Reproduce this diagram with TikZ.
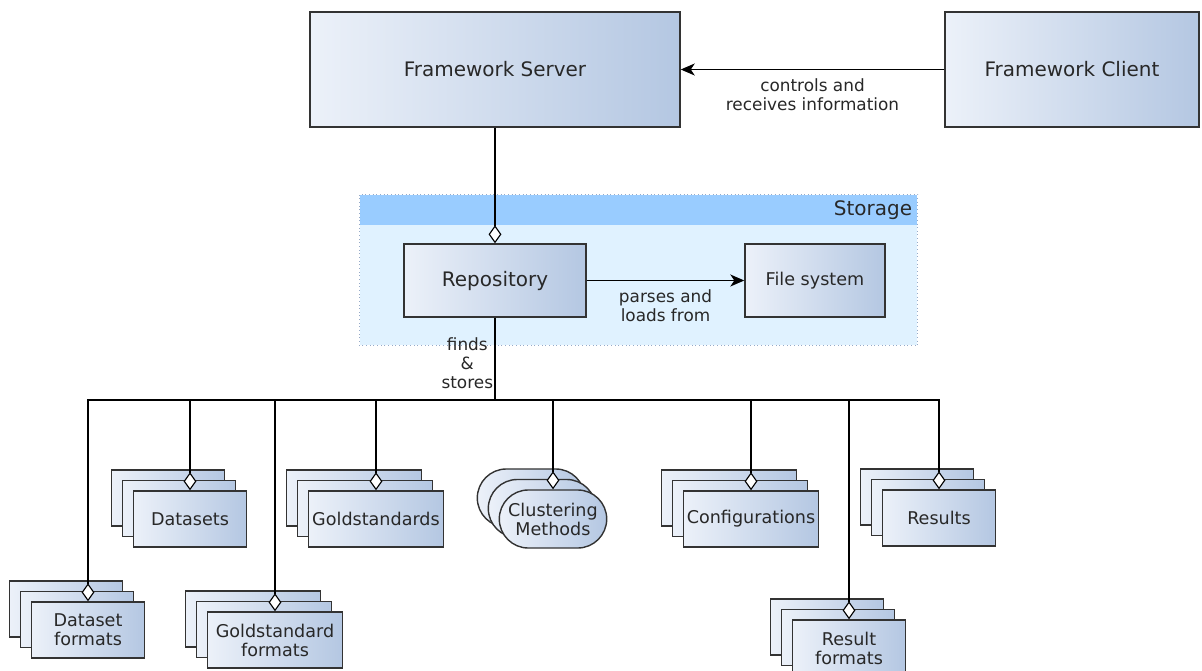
\documentclass[tikz,border=0pt]{standalone}
\usepackage{fontspec}
\setmainfont{DejaVu Sans}
\usetikzlibrary{arrows.meta, shapes.misc}

\definecolor{boxl}{RGB}{236,241,249}
\definecolor{boxr}{RGB}{180,199,226}
\definecolor{boxline}{RGB}{51,51,51}
\definecolor{boxtext}{RGB}{40,40,40}
\definecolor{storehead}{RGB}{153,204,255}
\definecolor{storebody}{RGB}{224,242,255}
\definecolor{storeline}{RGB}{150,170,200}

% three stacked copies, the front one carries the name and the text
\newcommand{\stackbox}[5]{%
  \node[#2] (#1-back) at (#3-22,#4-21) {};
  \node[#2] (#1-mid)  at (#3-11,#4-10.5) {};
  \node[#2] (#1) at (#3,#4) {#5};
}

\begin{document}
\begin{tikzpicture}[
  x=0.025cm, y=-0.025cm,
  >={Stealth[length=3.5mm, width=3mm, inset=1mm]},
  line width=0.8pt,
  box/.style   = {draw=boxline, line width=1pt, left color=boxl, right color=boxr,
                  rectangle, align=center, inner sep=2pt, text=boxtext,
                  font=\fontsize{12.5}{13.5}\selectfont},
  part/.style  = {box, minimum width=2.825cm, minimum height=1.4cm},
  wide/.style  = {box, minimum width=3.375cm, minimum height=1.4cm},
  oval/.style  = {box, rounded rectangle, minimum width=2.825cm, minimum height=1.45cm},
  comp/.style  = {box, minimum height=2.875cm, font=\fontsize{14.2}{17}\selectfont},
  agg/.style   = {-{Diamond[fill=white, length=4.5mm, width=3.2mm]}},
  lbl/.style   = {align=center, inner sep=1pt, text=boxtext,
                  font=\fontsize{12}{13.5}\selectfont},
]
  \useasboundingbox (0,0) rectangle (1202,670);

  % -- server and client --------------------------------------------------
  \node[comp, minimum width=9.25cm] (server) at (495,69.5) {Framework Server};
  \node[comp, minimum width=6.35cm] (client) at (1072,69.5) {Framework Client};

  \draw[->] (client) -- node[lbl, below=5pt] {controls and\\receives information} (server);

  % -- storage ------------------------------------------------------------
  \node[fill=storebody, minimum width=13.925cm, minimum height=3.75cm, inner sep=0pt]
        (storage) at (638.5,270) {};
  \node[fill=storehead, minimum width=13.925cm, minimum height=0.75cm, inner sep=0.125cm,
        text width=13.675cm, align=right, text=boxtext, font=\fontsize{14.2}{17}\selectfont]
        (storehead) at (638.5,210) {Storage};
  \draw[storeline, dotted, line width=0.6pt] (storage.south west) rectangle (storage.north east);

  \node[box, minimum width=4.55cm, minimum height=1.825cm,
        font=\fontsize{14.2}{17}\selectfont] (repo) at (495,280.5) {Repository};
  \node[box, minimum width=3.5cm, minimum height=1.825cm] (files) at (815,280.5) {File system};

  \draw[agg] (server) -- (repo);
  \draw[->] (repo) -- node[lbl, below=5pt] {parses and\\loads from} (files);

  % -- stored entities ----------------------------------------------------
  \stackbox{dsformats}{part}{88}{630}{Dataset\\formats}
  \stackbox{datasets}{part}{190}{519}{Datasets}
  \stackbox{gsformats}{wide}{275}{640}{Goldstandard\\formats}
  \stackbox{goldstd}{wide}{376}{519}{Goldstandards}
  \stackbox{methods}{oval}{553}{519}{Clustering\\Methods}
  \stackbox{configs}{wide}{751}{519}{Configurations}
  \stackbox{resformats}{part}{849}{648}{Result\\formats}
  \stackbox{results}{part}{939}{518}{Results}

  \coordinate (bus) at (495,400);
  \draw (repo.south) -- node[lbl, left, yshift=-0.1cm] {finds\\\&\\stores} (bus);

  \foreach \n in {dsformats, datasets, gsformats, goldstd, methods, configs, resformats, results}
    \draw[agg] (bus) -| (\n.north);

\end{tikzpicture}
\end{document}
